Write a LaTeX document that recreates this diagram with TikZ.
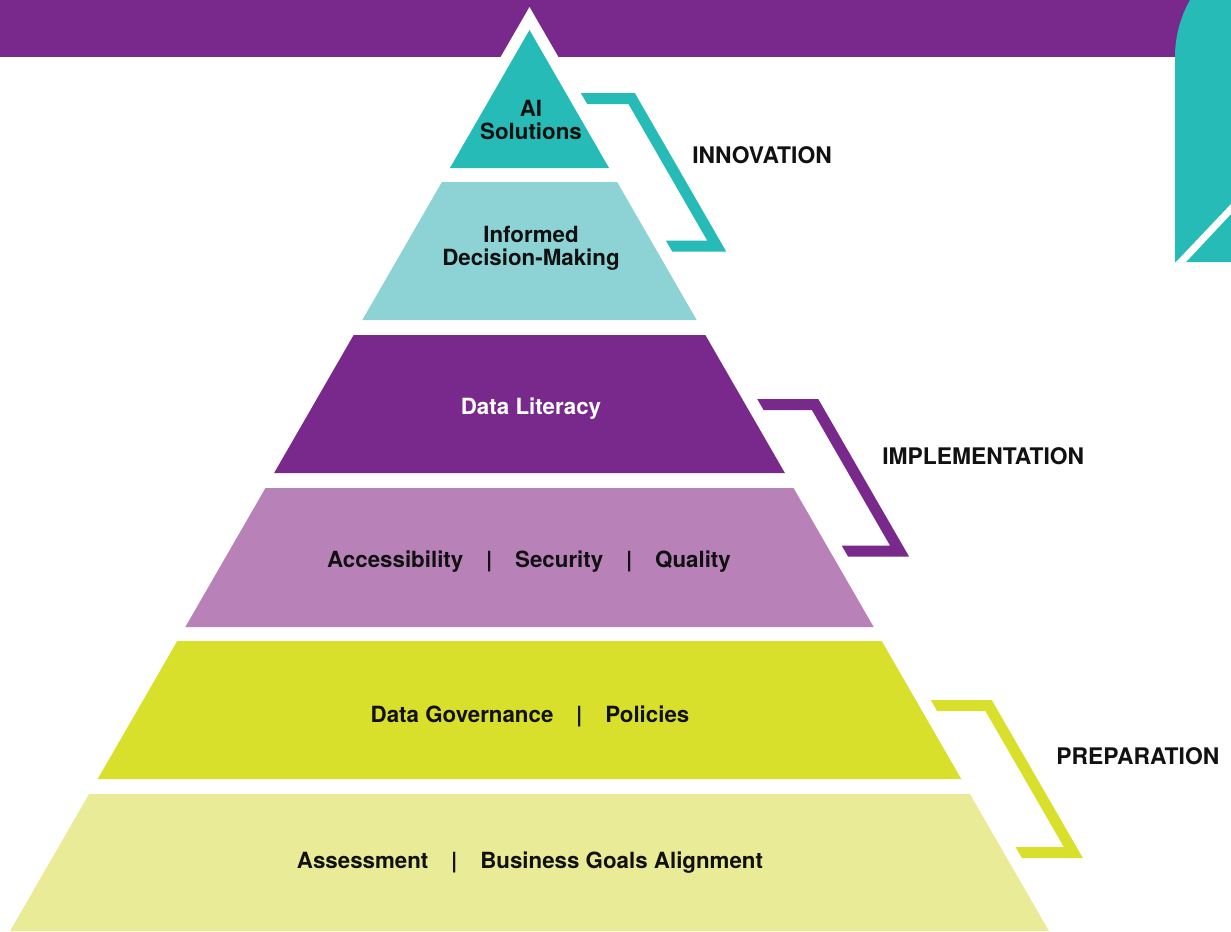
\documentclass[tikz,border=0pt]{standalone}
\usepackage{fontspec}
\setmainfont{TeX Gyre Heros}
\usetikzlibrary{calc}

\definecolor{bannerPurple}{HTML}{78298B}
\definecolor{aiTeal}{HTML}{26BBB6}
\definecolor{lightTeal}{HTML}{8DD3D6}
\definecolor{lilac}{HTML}{B882B9}
\definecolor{govGreen}{HTML}{D9E02B}
\definecolor{paleGreen}{HTML}{EAEB96}
\definecolor{ink}{HTML}{111111}

\newcommand{\drawLevel}[3]{
	\fill[#3] ({edgeL(#1)},#1) -- ({edgeR(#1)},#1) -- ({edgeR(#2)},#2) -- ({edgeL(#2)},#2) -- cycle;
}
\newcommand{\drawBracket}[4]{
	\fill[#4] ({edgeR(#1-5.5)+15},{#1-5.5}) -- ({edgeR(#1-5.5)+#3},{#1-5.5})
		-- ({edgeR(#2+5.5)+#3},{#2+5.5}) -- ({edgeR(#2+5.5)+15},{#2+5.5})
		-- ({edgeR(#2-5.5)+15},{#2-5.5}) -- ({edgeR(#2-5.5)+#3-12.7},{#2-5.5})
		-- ({edgeR(#1+5.5)+#3-12.7},{#1+5.5}) -- ({edgeR(#1+5.5)+15},{#1+5.5}) -- cycle;
}
\newcommand{\barSep}{\hspace{13pt}|\hspace{13pt}}

\tikzset{
	levelText/.style={font=\fontsize{12.7}{13}\selectfont\bfseries, align=center, text=ink, inner sep=0pt},
	stageLabel/.style={font=\fontsize{13}{13}\selectfont\bfseries, text=ink, inner sep=0pt, anchor=west}
}

\begin{document}
\begin{tikzpicture}[x=0.02cm, y=-0.02cm,
		declare function={edgeL(\y)=529.5-(\y-30)*0.5765; edgeR(\y)=529.5+(\y-30)*0.5765;}]

		\useasboundingbox (0,0) rectangle (1231,931);
		\clip (0,0) rectangle (1231,931);

		\fill[bannerPurple] (0,0) rectangle (1200,57);
		\fill[aiTeal] (1175,262) -- (1175,57) .. controls (1175,-7) and (1227,-59) .. (1291,-59) -- (1300,262) -- cycle;
		\fill[white] (1176,262) -- (1231,204) -- (1231,214) -- (1186,262) -- cycle;
		\fill[white] (529.5,7) -- (560.1,60) -- (498.9,60) -- cycle;

		\drawLevel{30}{168}{aiTeal}
		\drawLevel{182}{320}{lightTeal}
		\drawLevel{335}{473}{bannerPurple}
		\drawLevel{488}{627}{lilac}
		\drawLevel{641}{779}{govGreen}
		\drawLevel{794}{931}{paleGreen}

		\drawBracket{98.5}{246}{69}{aiTeal}
		\drawBracket{404.5}{551}{76}{bannerPurple}
		\drawBracket{705.5}{852.5}{76}{govGreen}

		\node[levelText] (aiText) at (531,120) {AI\\Solutions};
		\node[levelText] (informedText) at (531,248) {Informed\\Decision-Making};
		\node[levelText, text=white] (literacyText) at (531,409) {Data Literacy};
		\node[levelText] (pillarsText) at (529,562) {Accessibility\barSep Security\barSep Quality};
		\node[levelText] (governanceText) at (530,716) {Data Governance\barSep Policies};
		\node[levelText] (assessmentText) at (530,863) {Assessment\barSep Business Goals Alignment};

		\node[stageLabel] (innovationLabel) at (692,155) {INNOVATION};
		\node[stageLabel] (implementationLabel) at (882,456) {IMPLEMENTATION};
		\node[stageLabel] (preparationLabel) at (1056,756) {PREPARATION};

	\end{tikzpicture}
\end{document}
